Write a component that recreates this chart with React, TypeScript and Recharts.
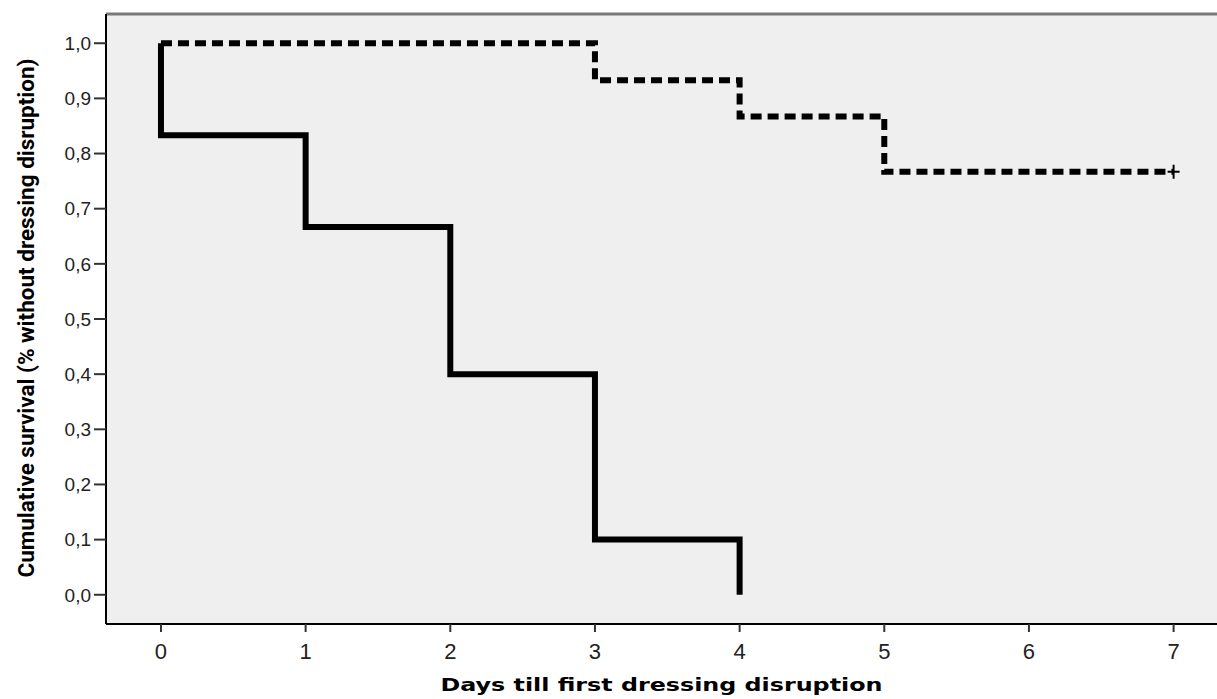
import React from 'react';
import { LineChart, Line, XAxis, YAxis, ReferenceArea, ReferenceLine, Label } from 'recharts';

// Kaplan-Meier style step curves (time in days, cumulative survival)
const solidDays = [0, 0, 1, 2, 3, 4];
const solidSurvival = [1.0, 0.833, 0.667, 0.4, 0.1, 0.0];
const dashedDays = [0, 3, 4, 5, 7];
const dashedSurvival = [1.0, 0.933, 0.867, 0.767, 0.767];

const xTicks = [0, 1, 2, 3, 4, 5, 6, 7];
const yTicks = [0, 0.1, 0.2, 0.3, 0.4, 0.5, 0.6, 0.7, 0.8, 0.9, 1.0];

const X_TITLE = 'Days till first dressing disruption';
const Y_TITLE = 'Cumulative survival (% without dressing disruption)';

const X_DOMAIN: [number, number] = [-0.38, 7.3];
const Y_DOMAIN: [number, number] = [-0.053, 1.053];

const solidData = solidDays.map((d, i) => ({ day: d, value: solidSurvival[i] }));
const dashedData = dashedDays.map((d, i) => ({ day: d, value: dashedSurvival[i] }));

const fmtComma = (v: number) => v.toFixed(1).replace('.', ',');

// censor mark on the last observation of the dashed curve
const CensorDot = (props: any) => {
  const { cx, cy, index } = props;
  if (index !== dashedData.length - 1) return <g key={`c-${index}`} />;
  return (
    <g key={`c-${index}`}>
      <line x1={cx} x2={cx} y1={cy - 7} y2={cy + 7} stroke="#000" strokeWidth={2} />
      <line x1={cx - 6} x2={cx + 6} y1={cy} y2={cy} stroke="#000" strokeWidth={2} />
    </g>
  );
};

const XTitle = (p: any) => {
  const vb = p.viewBox;
  const cx = vb.x + vb.width / 2;
  return (
    <text
      x={cx}
      y={vb.y + vb.height - 8}
      textAnchor="middle"
      textLength={442}
      lengthAdjust="spacingAndGlyphs"
      fill="#000"
      fontSize={17}
      fontWeight="bold"
      fontFamily="DejaVu Sans, Verdana, sans-serif"
    >
      {X_TITLE}
    </text>
  );
};

const YTitle = (p: any) => {
  const vb = p.viewBox;
  const cy = vb.y + vb.height / 2 - 1;
  return (
    <text
      transform={`translate(34, ${cy}) rotate(-90)`}
      textAnchor="middle"
      textLength={519}
      lengthAdjust="spacingAndGlyphs"
      fill="#000"
      fontSize={22}
      fontWeight="bold"
      fontFamily="Roboto, Arial, sans-serif"
    >
      {Y_TITLE}
    </text>
  );
};

export default function App() {
  return (
    <div style={{ position: 'absolute', left: 0, top: 0, width: 1217, height: 699, background: '#fff' }}>
      <LineChart width={1217} height={699} margin={{ top: 14, right: 0, left: 0, bottom: 0 }}>
        <ReferenceArea
          x1={X_DOMAIN[0]}
          x2={X_DOMAIN[1]}
          y1={Y_DOMAIN[0]}
          y2={Y_DOMAIN[1]}
          fill="#efefef"
          fillOpacity={1}
          stroke="none"
        />
        <ReferenceLine y={Y_DOMAIN[1]} stroke="#7a7a7a" strokeWidth={3} />
        <XAxis
          dataKey="day"
          type="number"
          domain={X_DOMAIN}
          ticks={xTicks}
          allowDataOverflow
          height={75}
          axisLine={{ stroke: '#000', strokeWidth: 2 }}
          tickLine={{ stroke: '#333', strokeWidth: 2 }}
          tickSize={8}
          tickMargin={11}
          tick={{ fill: '#222', fontSize: 22, fontFamily: 'Liberation Sans, Arial, sans-serif' }}
        >
          <Label content={<XTitle />} />
        </XAxis>
        <YAxis
          type="number"
          domain={Y_DOMAIN}
          ticks={yTicks}
          allowDataOverflow
          width={106}
          axisLine={{ stroke: '#000', strokeWidth: 2 }}
          tickLine={{ stroke: '#333', strokeWidth: 2 }}
          tickSize={12}
          tickMargin={3}
          tickFormatter={fmtComma}
          tick={{ fill: '#222', fontSize: 19, fontFamily: 'Liberation Sans, Arial, sans-serif' }}
        >
          <Label content={<YTitle />} />
        </YAxis>
        <Line
          data={solidData}
          dataKey="value"
          type="stepAfter"
          stroke="#000"
          strokeWidth={6}
          dot={false}
          activeDot={false}
          isAnimationActive={false}
        />
        <Line
          data={dashedData}
          dataKey="value"
          type="stepAfter"
          stroke="#000"
          strokeWidth={6}
          strokeDasharray="11 6"
          dot={<CensorDot />}
          activeDot={false}
          isAnimationActive={false}
        />
      </LineChart>
    </div>
  );
}
